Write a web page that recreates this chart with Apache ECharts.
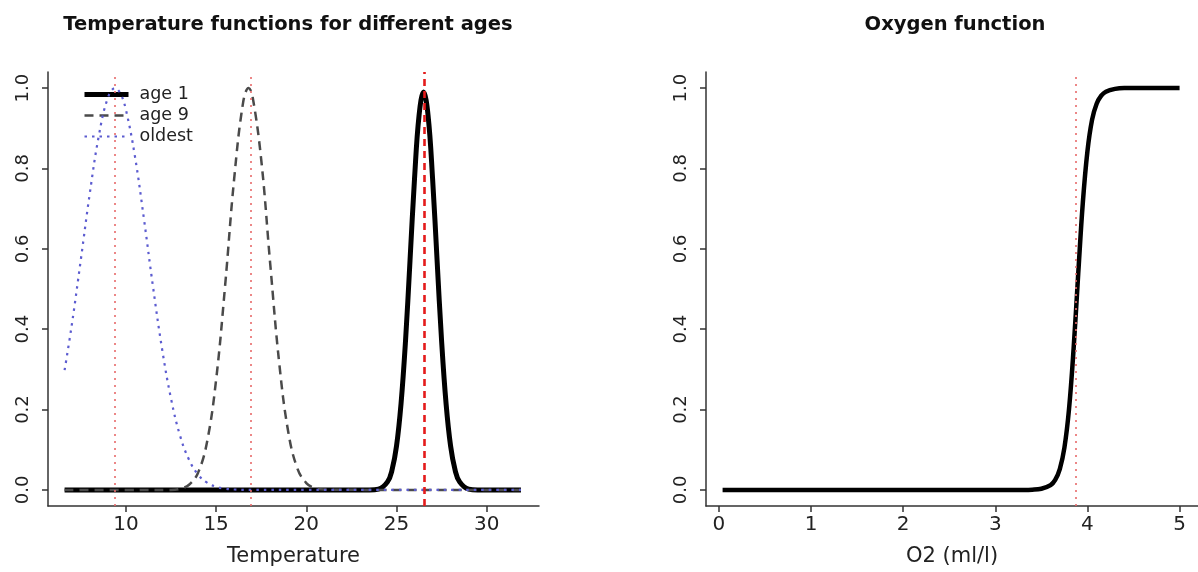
<!DOCTYPE html>
<html><head><meta charset="utf-8">
<script src="https://cdn.jsdelivr.net/npm/echarts@6/dist/echarts.min.js"></script>
<style>html,body{margin:0;padding:0;background:#fff}#c{width:1198px;height:572px}</style>
</head><body><div id="c"></div>
<script>
const titles = ['Temperature functions for different ages', 'Oxygen function'];
const xNames = ['Temperature', 'O2 (ml/l)'];
const legendNames = ['age 1', 'age 9', 'oldest'];
const tempTicks = [10, 15, 20, 25, 30];
const o2Ticks = [0, 1, 2, 3, 4, 5];
const yTicks = [0, 0.2, 0.4, 0.6, 0.8, 1.0];

const age1X = [6.6, 20, 23.5, 24.0, 24.5, 24.75, 25.0, 25.25, 25.5, 25.75, 26.0, 26.25, 26.5, 26.75, 27.0, 27.25, 27.5, 27.75, 28.0, 28.25, 28.5, 29.0, 29.5, 31.9];
const age1Y = [0, 0, 0, 0.002, 0.020, 0.049, 0.109, 0.214, 0.371, 0.571, 0.775, 0.932, 0.99, 0.932, 0.775, 0.571, 0.371, 0.214, 0.109, 0.049, 0.020, 0.002, 0, 0];

const age9X = [6.6, 10, 12.5, 13.0, 13.5, 14.0, 14.5, 15.0, 15.5, 16.0, 16.5, 16.8, 17.0, 17.5, 18.0, 18.5, 19.0, 19.5, 20.0, 20.5, 21.0, 25.0, 31.9];
const age9Y = [0, 0, 0, 0.003, 0.013, 0.043, 0.120, 0.274, 0.509, 0.774, 0.965, 1.0, 0.984, 0.822, 0.562, 0.315, 0.144, 0.054, 0.017, 0.004, 0.001, 0, 0];

const oldestX = [6.6, 7.0, 7.5, 8.0, 8.5, 9.0, 9.4, 9.7, 10.0, 10.5, 11.0, 11.5, 12.0, 12.5, 13.0, 13.5, 14.0, 14.5, 15.0, 15.5, 16.0, 17.0, 20.0, 25.0, 30.0, 31.9];
const oldestY = [0.298, 0.411, 0.573, 0.739, 0.882, 0.976, 1.0, 0.986, 0.946, 0.830, 0.674, 0.506, 0.352, 0.227, 0.135, 0.075, 0.038, 0.018, 0.008, 0.003, 0.001, 0, 0, 0, 0, 0];

const o2X = [0.04, 1, 2, 3, 3.3, 3.4, 3.5, 3.6, 3.65, 3.7, 3.75, 3.8, 3.85, 3.9, 3.95, 4.0, 4.05, 4.1, 4.15, 4.2, 4.3, 4.4, 4.6, 5.0];
const o2Y = [0, 0, 0, 0, 0.0001, 0.0006, 0.003, 0.012, 0.025, 0.052, 0.105, 0.201, 0.352, 0.538, 0.715, 0.843, 0.921, 0.961, 0.981, 0.991, 0.998, 1.0, 1.0, 1.0];

const tempRefDotted = [9.4, 16.9];
const tempRefDashed = [26.55];
const o2RefDotted = [3.87];

const FONT = '"DejaVu Sans", Verdana, sans-serif';
const zip = (xs, ys) => xs.map((x, i) => [x, ys[i]]);
const axisCol = '#333';

function xAxisCfg(grid, min, max, name, ticks) {
  return {
    type: 'value', gridIndex: grid, min, max, name,
    nameLocation: 'middle', nameGap: 40,
    nameTextStyle: { fontSize: 21, color: '#222', fontFamily: FONT },
    axisLine: { show: true, onZero: false, lineStyle: { color: axisCol, width: 1.5 } },
    axisTick: { show: true, length: 6, customValues: ticks, lineStyle: { color: axisCol, width: 1.5 } },
    axisLabel: { customValues: ticks, fontSize: 20, color: '#222', fontFamily: FONT, margin: 9 },
    splitLine: { show: false }
  };
}
function yAxisCfg(grid) {
  return {
    type: 'value', gridIndex: grid, min: -0.04, max: 1.04,
    axisLine: { show: true, onZero: false, lineStyle: { color: axisCol, width: 1.5 } },
    axisTick: { show: true, length: 6, customValues: yTicks, lineStyle: { color: axisCol, width: 1.5 } },
    axisLabel: { customValues: yTicks, rotate: 90, fontSize: 18, color: '#222', fontFamily: FONT, margin: 16,
      formatter: v => v.toFixed(1) },
    splitLine: { show: false }
  };
}
const refMark = (vals, color, type, width) => ({
  silent: true, symbol: ['none', 'none'], label: { show: false },
  lineStyle: { color, type, width, opacity: 1 },
  emphasis: { disabled: true },
  data: vals.map(v => ({ xAxis: v }))
});

const chart = echarts.init(document.getElementById('c'), null, { renderer: 'canvas' });
chart.setOption({
  animation: false,
  backgroundColor: '#fff',
  title: [
    { text: titles[0], left: 283, top: 10, textAlign: 'center',
      textStyle: { fontSize: 19.5, fontWeight: 'bold', color: '#111', fontFamily: FONT } },
    { text: titles[1], left: 950, top: 10, textAlign: 'center',
      textStyle: { fontSize: 19.5, fontWeight: 'bold', color: '#111', fontFamily: FONT } }
  ],
  legend: {
    data: legendNames, orient: 'vertical', left: 77, top: 79,
    itemWidth: 44, itemHeight: 14, itemGap: 0, selectedMode: false,
    itemStyle: { opacity: 0 },
    lineStyle: { width: 'inherit', type: 'inherit', color: 'inherit' },
    textStyle: { fontSize: 17.5, lineHeight: 21, color: '#222', fontFamily: FONT, padding: [0, 0, 0, 6] }
  },
  grid: [
    { left: 48, top: 72, width: 491, bottom: 64 },
    { left: 706, top: 72, right: 0, bottom: 64 }
  ],
  xAxis: [
    xAxisCfg(0, 5.68, 32.9, xNames[0], tempTicks),
    xAxisCfg(1, -0.14, 5.2, xNames[1], o2Ticks)
  ],
  yAxis: [yAxisCfg(0), yAxisCfg(1)],
  series: [
    { name: legendNames[0], type: 'line', xAxisIndex: 0, yAxisIndex: 0, data: zip(age1X, age1Y),
      symbol: 'none', showSymbol: false, smooth: 0.4, z: 2,
      lineStyle: { color: '#000', width: 5 }, itemStyle: { color: '#000' } },
    { name: legendNames[1], type: 'line', xAxisIndex: 0, yAxisIndex: 0, data: zip(age9X, age9Y),
      symbol: 'none', showSymbol: false, smooth: 0.4, z: 3,
      lineStyle: { color: '#4a4a4a', width: 2.5, type: [9, 6] }, itemStyle: { color: '#4a4a4a' } },
    { name: legendNames[2], type: 'line', xAxisIndex: 0, yAxisIndex: 0, data: zip(oldestX, oldestY),
      symbol: 'none', showSymbol: false, smooth: 0.4, z: 4,
      lineStyle: { color: '#5c5cd0', width: 2.2, type: [2.5, 5] }, itemStyle: { color: '#5c5cd0' },
      markLine: refMark(tempRefDotted, '#e86a6a', [2, 5], 1.6) },
    { name: 'refDashed', type: 'line', xAxisIndex: 0, yAxisIndex: 0, data: [], z: 5,
      markLine: refMark(tempRefDashed, '#e41b1b', [7, 5], 2.6) },
    { name: 'oxygen', type: 'line', xAxisIndex: 1, yAxisIndex: 1, data: zip(o2X, o2Y),
      symbol: 'none', showSymbol: false, smooth: 0.4, z: 2,
      lineStyle: { color: '#000', width: 4.5 }, itemStyle: { color: '#000' },
      markLine: refMark(o2RefDotted, '#e86a6a', [2, 5], 1.6) }
  ]
});
</script></body></html>
